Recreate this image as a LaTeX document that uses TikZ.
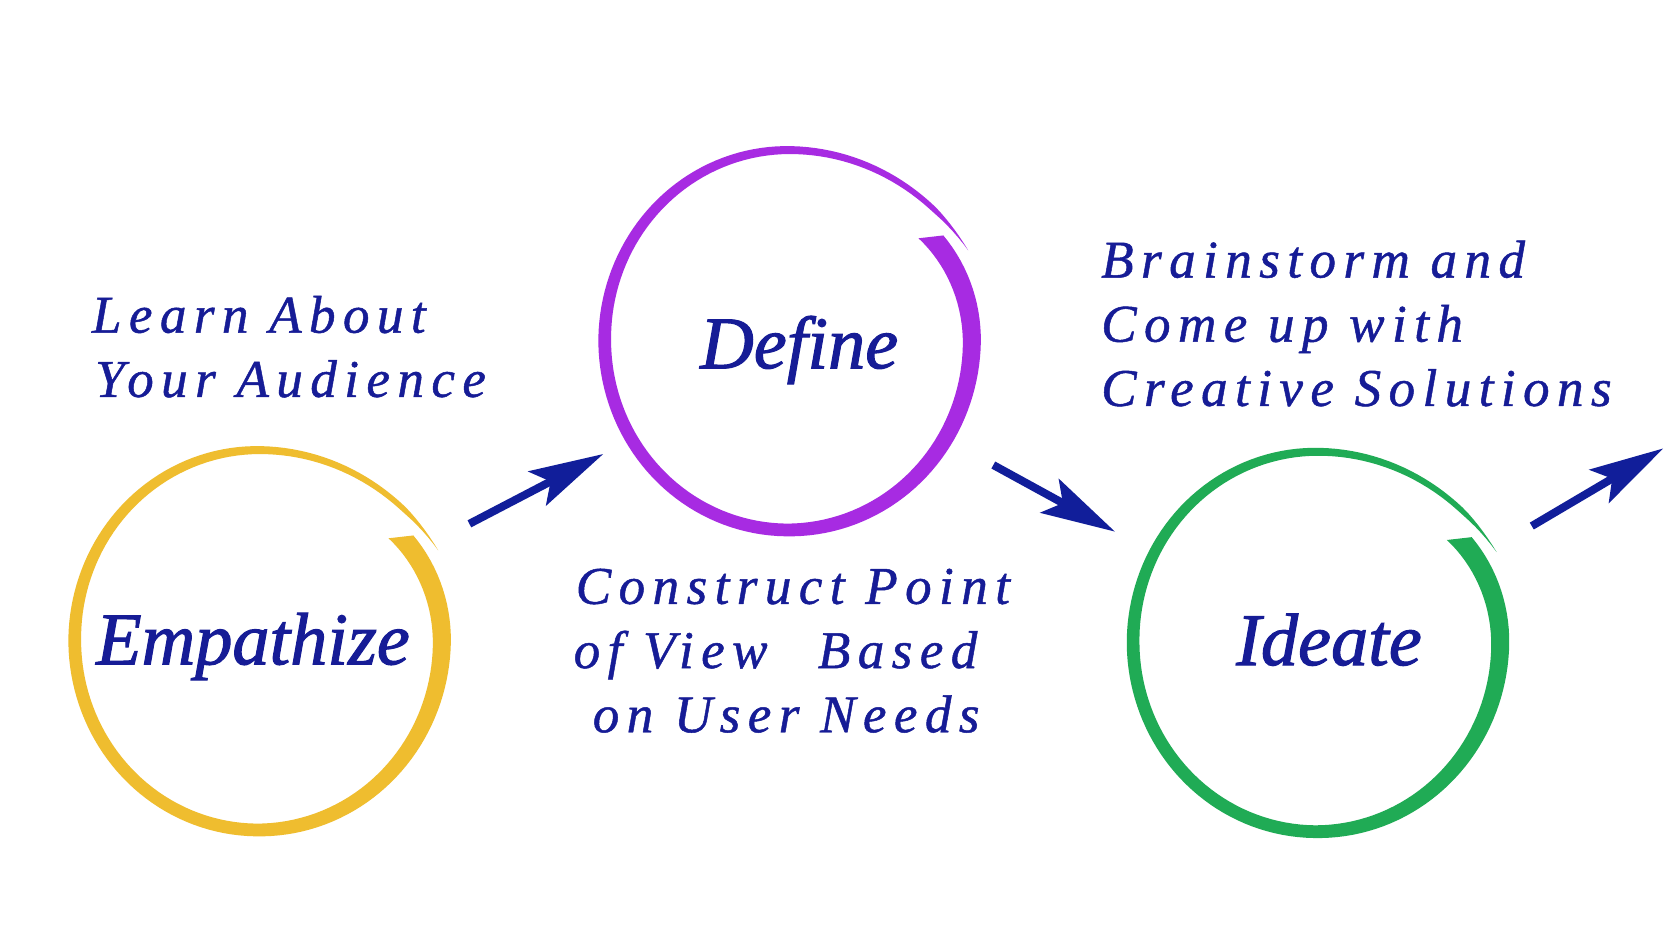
\documentclass[tikz,border=0pt]{standalone}
\usepackage{fontspec}
\setmainfont{Liberation Serif}
\newfontfamily\bigserif[FakeBold=1.4]{Liberation Serif}
\newfontfamily\spacedserif[LetterSpace=14, FakeBold=0.9]{Liberation Serif}
\usetikzlibrary{arrows.meta}
\definecolor{txtblue}{RGB}{22,28,150}
\definecolor{arrblue}{RGB}{17,30,154}
\definecolor{ringyellow}{RGB}{239,189,47}
\definecolor{ringpurple}{RGB}{167,43,226}
\definecolor{ringgreen}{RGB}{32,171,85}
\tikzset{
  declare function={
    ringr(\t)=176-3*cos(2*\t)-10*(max(0,1-(\t+38)/40))^2+15*(max(0,(\t-270)/63))^2;
    ringw(\t)=(12+7*max(0,(90-\t)/126)-4.5*max(0,(\t-180)/90))*min(1,(333.5-\t)/15);
  },
  bigword/.style={inner sep=0pt, anchor=base west, text=txtblue, font=\bigserif\fontsize{70}{80}\selectfont\itshape},
  smallblock/.style={inner sep=0pt, anchor=base west, text=txtblue, font=\spacedserif\fontsize{50}{60.5}\selectfont\itshape},
  flow/.style={draw=arrblue, line width=7.5pt, line cap=butt, -{Stealth[length=70pt, width=36pt, inset=14pt]}}
}
\newcommand{\brushring}[2]{%
  \fill[#2, shift={#1}]
    plot[domain=-34:333.5, samples=160, variable=\t] (\t:{ringr(\t)+0.5*ringw(\t)})
    -- plot[domain=333.5:-38, samples=160, variable=\t] (\t:{ringr(\t)-0.5*ringw(\t)})
    -- cycle;}
\begin{document}
\begin{tikzpicture}[x=1pt, y=-1pt]
\useasboundingbox (0,0) rectangle (1568,872.6);
\fill[white] (0,0) rectangle (1568,872.6);
% rings
\brushring{(243.4,603.1)}{ringyellow}
\brushring{(742.8,320.4)}{ringpurple}
\brushring{(1240.7,604.7)}{ringgreen}
% titles
\node[bigword] (empathize) at (90.5,626) {Empathize};
\node[bigword] (define) at (659.6,347) {Define};
\node[bigword] (ideate) at (1164.7,626.7) {Ideate};
% descriptions
\node[smallblock] (learn) at (86.5,313.5) {\begin{tabular}[t]{@{}l@{}}Learn About\\\hspace*{3pt}Your Audience\end{tabular}};
\node[smallblock] (construct) at (542.4,569) {\begin{tabular}[t]{@{}l@{}}Construct Point\\\hspace*{-2pt}of View\hspace{28pt} Based\\\hspace*{16pt}on User Needs\end{tabular}};
\node[smallblock] (brain) at (1037.5,261.5) {\begin{tabular}[t]{@{}l@{}}Brainstorm and\\Come up with\\Creative Solutions\end{tabular}};
% arrows
\coordinate (a1s) at (442.3,493.6);
\coordinate (a1e) at (568.5,427.8);
\coordinate (a2s) at (936,438.2);
\coordinate (a2e) at (1050.7,501);
\coordinate (a3s) at (1443.4,495.7);
\coordinate (a3e) at (1567.4,422.5);
\draw[flow] (a1s) -- (a1e);
\draw[flow] (a2s) -- (a2e);
\draw[flow] (a3s) -- (a3e);
\end{tikzpicture}
\end{document}
